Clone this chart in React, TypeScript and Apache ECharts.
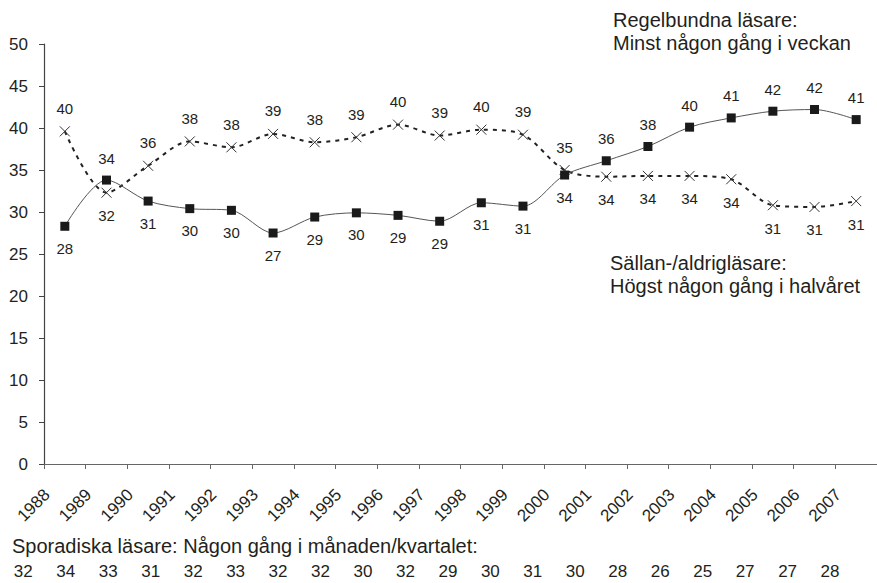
import React, { useEffect, useRef } from 'react';
import * as echarts from 'echarts';

const years = ['1988', '1989', '1990', '1991', '1992', '1993', '1994', '1995', '1996', '1997', '1998', '1999', '2000', '2001', '2002', '2003', '2004', '2005', '2006', '2007'];
const regelbundna = [28.3, 33.8, 31.3, 30.4, 30.2, 27.5, 29.4, 29.9, 29.6, 28.9, 31.1, 30.7, 34.4, 36.1, 37.8, 40.1, 41.2, 42.0, 42.2, 41.0];
const regelbundnaLabels = [28, 34, 31, 30, 30, 27, 29, 30, 29, 29, 31, 31, 34, 36, 38, 40, 41, 42, 42, 41];
const sallan = [39.6, 32.3, 35.5, 38.4, 37.7, 39.3, 38.3, 38.9, 40.4, 39.1, 39.8, 39.2, 35.0, 34.2, 34.3, 34.3, 33.9, 30.8, 30.6, 31.3];
const sallanLabels = [40, 32, 36, 38, 38, 39, 38, 39, 40, 39, 40, 39, 35, 34, 34, 34, 34, 31, 31, 31];
const sporadiska = [32, 34, 33, 31, 32, 33, 32, 32, 30, 32, 29, 30, 31, 30, 28, 26, 25, 27, 27, 28];
const yTicks = { min: 0, max: 50, interval: 5 };

const FONT = '"Liberation Sans", Arial, Helvetica, sans-serif';
const TEXT = '#231f20';

export default function App() {
  const ref = useRef<HTMLDivElement>(null);
  useEffect(() => {
    if (!ref.current) return;
    const chart = echarts.init(ref.current, null, { renderer: 'svg' });

    const mkData = (vals: number[], other: number[]) =>
      vals.map((v, i) => ({
        value: v,
        label: { position: v >= other[i] ? 'top' : 'bottom' },
      }));

    const numberTexts = sporadiska.map((n, i) => ({
      type: 'text',
      x: 23.3 + i * 42.46,
      y: 563,
      style: { text: String(n), fontSize: 17, fontFamily: FONT, fill: TEXT, align: 'center', verticalAlign: 'top' },
    }));

    const staticGraphics = [
      {
        type: 'text',
        left: 613,
        top: 9,
        style: { text: 'Regelbundna läsare:\nMinst någon gång i veckan', fontSize: 20, lineHeight: 22.5, fontFamily: FONT, fill: TEXT },
      },
      {
        type: 'text',
        left: 610,
        top: 252,
        style: { text: 'Sällan-/aldrigläsare:\nHögst någon gång i halvåret', fontSize: 20, lineHeight: 22.5, fontFamily: FONT, fill: TEXT },
      },
      {
        type: 'text',
        left: 12,
        top: 536,
        style: { text: 'Sporadiska läsare: Någon gång i månaden/kvartalet:', fontSize: 20, fontFamily: FONT, fill: TEXT },
      },
      ...numberTexts,
    ];

    chart.setOption({
      animation: false,
      backgroundColor: '#ffffff',
      textStyle: { fontFamily: FONT },
      grid: { left: 44, top: 44, right: -5, bottom: 119, containLabel: false },
      xAxis: {
        type: 'category',
        data: years,
        boundaryGap: true,
        position: 'bottom',
        axisLine: { show: true, lineStyle: { color: '#666', width: 1.2 } },
        axisTick: { show: true, inside: false, length: 5, interval: 0, lineStyle: { color: '#666' } },
        axisLabel: { show: false },
        splitLine: { show: false },
      },
      yAxis: {
        type: 'value',
        min: yTicks.min,
        max: yTicks.max,
        interval: yTicks.interval,
        axisLine: { show: true, lineStyle: { color: '#444', width: 1.2 } },
        axisTick: { show: true, inside: false, length: 5, lineStyle: { color: '#444' } },
        axisLabel: { fontSize: 17, color: TEXT, margin: 16, fontFamily: FONT },
        splitLine: { show: false },
      },
      series: [
        {
          name: 'Regelbundna läsare',
          type: 'line',
          data: mkData(regelbundna, sallan),
          smooth: 0.3,
          symbol: 'rect',
          symbolSize: 9,
          lineStyle: { color: '#555', width: 1 },
          itemStyle: { color: '#1a1a1a' },
          label: {
            show: true,
            distance: 10,
            fontSize: 15,
            color: TEXT,
            fontFamily: FONT,
            formatter: (p: any) => String(regelbundnaLabels[p.dataIndex]),
          },
          z: 3,
        },
        {
          name: 'Sällan-/aldrigläsare',
          type: 'line',
          data: mkData(sallan, regelbundna),
          smooth: 0.3,
          symbol: 'path://M0,0L10,10M10,0L0,10',
          symbolSize: 10,
          lineStyle: { color: '#222', width: 2, type: [4, 5] },
          itemStyle: { color: 'transparent', borderColor: '#333', borderWidth: 1 },
          label: {
            show: true,
            distance: 10,
            fontSize: 15,
            color: TEXT,
            fontFamily: FONT,
            formatter: (p: any) => String(sallanLabels[p.dataIndex]),
          },
          z: 2,
        },
      ],
      graphic: staticGraphics,
    });

    // Year labels: rotated 45°, anchored at the category band boundaries (ticks)
    const c0 = chart.convertToPixel({ xAxisIndex: 0 }, 0) as number;
    const c1 = chart.convertToPixel({ xAxisIndex: 0 }, 1) as number;
    const band = c1 - c0;
    const yBase = chart.convertToPixel({ yAxisIndex: 0 }, 0) as number;
    const yearTexts = years.map((yr, i) => {
      const cx = chart.convertToPixel({ xAxisIndex: 0 }, i) as number;
      return {
        type: 'text',
        x: cx - band / 2 + 3,
        y: yBase + 28,
        rotation: Math.PI / 4,
        style: { text: yr, fontSize: 17, fontFamily: FONT, fill: TEXT, align: 'right', verticalAlign: 'middle' },
      };
    });
    chart.setOption({ graphic: [...staticGraphics, ...yearTexts] }, { replaceMerge: ['graphic'] });

    return () => chart.dispose();
  }, []);
  return <div ref={ref} style={{ position: 'absolute', left: 0, top: 0, width: 877, height: 583, background: '#fff' }} />;
}
